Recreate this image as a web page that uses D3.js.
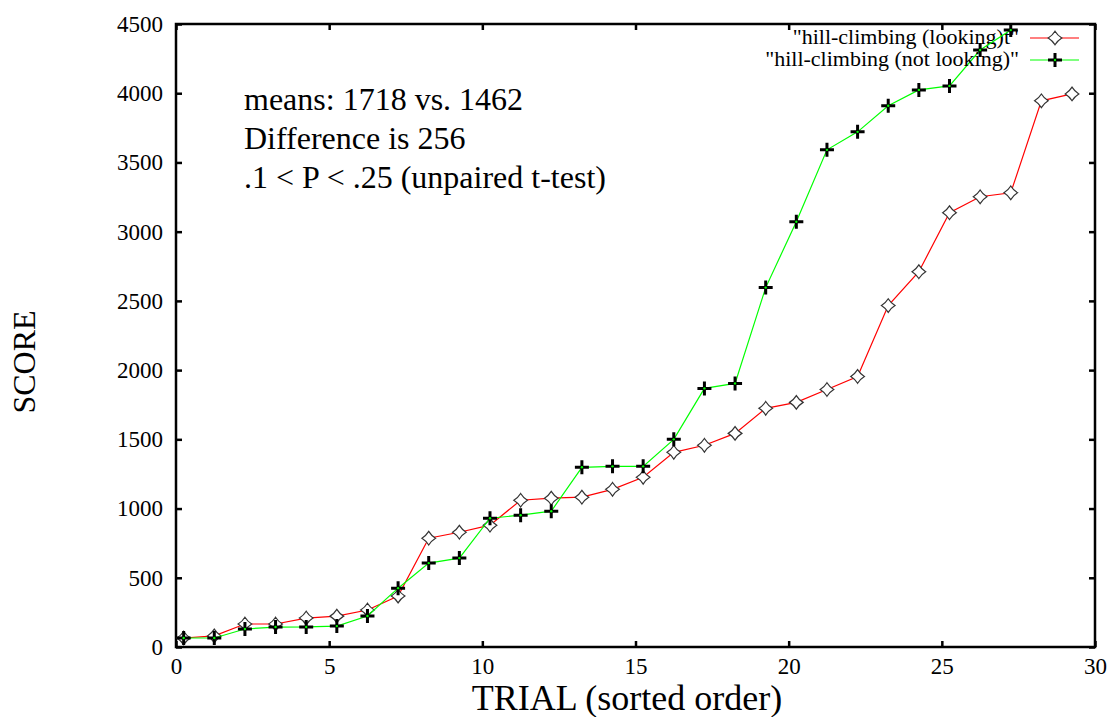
<!DOCTYPE html>
<html>
<head>
<meta charset="utf-8">
<script src="https://cdn.jsdelivr.net/npm/d3@7"></script>
<style>
  body { margin: 0; background: #fff; }
  text { font-family: "Liberation Serif", "Times New Roman", serif; fill: #000; }
</style>
</head>
<body>
<svg id="chart" width="1112" height="717"></svg>
<script>
// trial positions (sorted order)
const trials = d3.range(30).map(i => i + 0.25);

// "hill-climbing (looking)t"
const looking = [65, 80, 166, 166, 209, 223, 267, 368, 786, 829,
  880, 1060, 1075, 1082, 1139, 1226, 1406, 1457, 1543, 1724,
  1767, 1860, 1954, 2466, 2711, 3137, 3252, 3281, 3945, 3995];

// "hill-climbing (not looking)"
const notLooking = [65, 65, 130, 144, 145, 151, 224, 425, 606, 642,
  930, 952, 981, 1298, 1305, 1305, 1500, 1868, 1904, 2596,
  3072, 3591, 3721, 3909, 4024, 4053, 4312, 4456];

const xTicks = [0, 5, 10, 15, 20, 25, 30];
const yTicks = [0, 500, 1000, 1500, 2000, 2500, 3000, 3500, 4000, 4500];

const notes = ["means: 1718 vs. 1462", "Difference is 256", ".1 < P < .25 (unpaired t-test)"];

var svg = d3.select("#chart"),
    margin = {top: 24, right: 17, bottom: 70, left: 176},
    width = +svg.attr("width") - margin.left - margin.right,
    height = +svg.attr("height") - margin.top - margin.bottom;

var g = svg.append("g")
  .attr("transform", "translate(" + margin.left + "," + margin.top + ")");

var x = d3.scaleLinear().domain([0, 30]).range([0, width]);
var y = d3.scaleLinear().domain([0, 4500]).range([height, 0]);

// axes, ticks pointing inward like gnuplot
function clean(a) {
  a.attr("font-family", "Liberation Serif").attr("font-size", 23);
  a.select(".domain").remove();
}
g.append("g")
  .attr("class", "xaxis")
  .attr("transform", "translate(0," + height + ")")
  .call(d3.axisBottom(x).tickValues(xTicks).tickSizeInner(-6).tickSizeOuter(0)
    .tickFormat(d3.format("d")).tickPadding(11))
  .call(clean);
g.append("g")
  .call(d3.axisTop(x).tickValues(xTicks).tickSizeInner(-6).tickSizeOuter(0).tickFormat(""))
  .call(clean);
g.append("g")
  .attr("class", "yaxis")
  .call(d3.axisLeft(y).tickValues(yTicks).tickSizeInner(-6).tickSizeOuter(0)
    .tickFormat(d3.format("d")).tickPadding(13))
  .call(clean);
g.append("g")
  .attr("transform", "translate(" + width + ",0)")
  .call(d3.axisRight(y).tickValues(yTicks).tickSizeInner(-6).tickSizeOuter(0).tickFormat(""))
  .call(clean);

g.selectAll(".tick line").attr("stroke", "#000").attr("stroke-width", 2.5);
g.selectAll(".tick text")
  .attr("font-family", "Liberation Serif")
  .style("font-family", "'Liberation Serif', serif")
  .style("font-size", "23px");

g.append("rect")
  .attr("width", width)
  .attr("height", height)
  .attr("fill", "none")
  .attr("stroke", "#000")
  .attr("stroke-width", 2.5);

// axis titles
svg.append("text")
  .attr("transform", "translate(" + 627 + "," + 710 + ")")
  .style("text-anchor", "middle")
  .style("font-size", "36px")
  .text("TRIAL (sorted order)");

svg.append("text")
  .attr("transform", "translate(35,362) rotate(-90)")
  .style("text-anchor", "middle")
  .style("font-size", "32px")
  .text("SCORE");

// annotation
g.selectAll(".note")
  .data(notes)
  .enter()
  .append("text")
  .attr("x", 68)
  .attr("y", (d, i) => 86 + i * 39)
  .style("font-size", "32px")
  .text(d => d);

// markers
function starDiamond(r) {
  const k = r * 0.38;
  return "M0," + (-r) + "Q" + k + "," + (-k) + " " + r + ",0" +
    "Q" + k + "," + k + " 0," + r +
    "Q" + (-k) + "," + k + " " + (-r) + ",0" +
    "Q" + (-k) + "," + (-k) + " 0," + (-r) + "Z";
}
const plusPath = "M-7,0H7M0,-7V7";

var line = d3.line().x(d => x(d[0])).y(d => y(d[1]));

var series = [
  {name: "\"hill-climbing (looking)t\"", values: looking, color: "#ff0000", mark: "diamond"},
  {name: "\"hill-climbing (not looking)\"", values: notLooking, color: "#00ff00", mark: "plus"}
];

function drawMark(sel, s) {
  if (s.mark === "diamond") {
    sel.append("path")
      .attr("d", starDiamond(6.8))
      .attr("fill", "#fff")
      .attr("stroke", "#333")
      .attr("stroke-width", 1.2);
  } else {
    sel.append("path")
      .attr("d", plusPath)
      .attr("stroke", "#000")
      .attr("stroke-width", 3);
    sel.append("circle")
      .attr("r", 1.2)
      .attr("fill", s.color);
  }
}

series.forEach(function (s, si) {
  var pts = s.values.map((v, i) => [trials[i], v]);
  g.append("path")
    .datum(pts)
    .attr("d", line)
    .attr("fill", "none")
    .attr("stroke", s.color)
    .attr("stroke-width", 1.2);
  g.selectAll(".mk" + si)
    .data(pts)
    .enter()
    .append("g")
    .attr("transform", d => "translate(" + x(d[0]) + "," + y(d[1]) + ")")
    .each(function () { drawMark(d3.select(this), s); });

  // legend
  var ly = 14 + si * 22;
  g.append("text")
    .attr("x", 843)
    .attr("y", ly + 6)
    .style("text-anchor", "end")
    .style("font-size", "22px")
    .text(s.name);
  g.append("line")
    .attr("x1", 854).attr("x2", 903)
    .attr("y1", ly).attr("y2", ly)
    .attr("stroke", s.color)
    .attr("stroke-width", 1.2);
  drawMark(g.append("g").attr("transform", "translate(" + 879 + "," + ly + ")"), s);
});
</script>
</body>
</html>
